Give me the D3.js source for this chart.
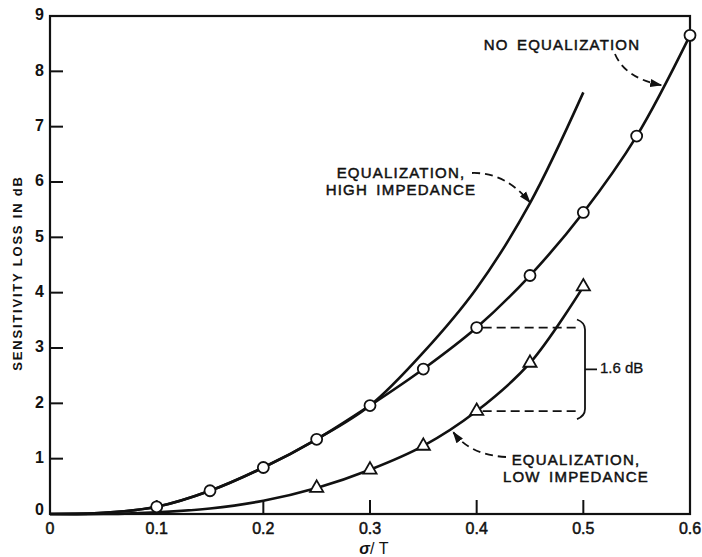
<!DOCTYPE html>
<html>
<head>
<meta charset="utf-8">
<script src="https://cdn.jsdelivr.net/npm/d3@7"></script>
<style>
  body { margin: 0; background: #fff; }
  svg { display: block; }
  text { font-family: "Liberation Sans", Arial, sans-serif; fill: #111; }
</style>
</head>
<body>
<div id="chart"></div>
<script>
// sigma/T values (x) and the three curves
var sigma     = [0, 0.05, 0.1, 0.15, 0.2, 0.25, 0.3, 0.35, 0.4, 0.45, 0.5, 0.55, 0.6];
var noEq      = [0, 0.02, 0.13, 0.42, 0.84, 1.35, 1.96, 2.62, 3.37, 4.31, 5.45, 6.83, 8.65];
var highImp   = [0, 0.02, 0.13, 0.42, 0.84, 1.35, 1.96, 2.92, 4.08, 5.62, 7.62];
var lowImp    = [0, 0.0, 0.03, 0.1, 0.24, 0.47, 0.80, 1.23, 1.86, 2.73, 4.11];
var noEqMarkFrom  = 0.1;   // circles from here on
var lowImpMarkFrom = 0.25; // triangles from here on
var xTicks = [0, 0.1, 0.2, 0.3, 0.4, 0.5, 0.6];
var xTickLabels = ["0", "0.1", "0.2", "0.3", "0.4", "0.5", "0.6"];
var yTicks = [0, 1, 2, 3, 4, 5, 6, 7, 8, 9];

var width = 702, height = 557;
var plotL = 50, plotR = 690, plotT = 16, plotB = 514;

var x = d3.scaleLinear().domain([0, 0.6]).range([plotL, plotR]);
var y = d3.scaleLinear().domain([0, 9]).range([plotB, plotT]);

var svg = d3.select("#chart").append("svg")
    .attr("width", width)
    .attr("height", height);

// arrow head
svg.append("defs").append("marker")
    .attr("id", "head")
    .attr("viewBox", "0 0 12 10")
    .attr("refX", 11).attr("refY", 5)
    .attr("markerWidth", 12).attr("markerHeight", 10)
    .attr("markerUnits", "userSpaceOnUse")
    .attr("orient", "auto")
  .append("path")
    .attr("d", "M0,1 L12,5 L0,9 Z")
    .attr("fill", "#111");

// frame
svg.append("rect")
    .attr("x", plotL).attr("y", plotT)
    .attr("width", plotR - plotL).attr("height", plotB - plotT)
    .attr("fill", "none")
    .attr("stroke", "#111")
    .attr("stroke-width", 2.2);

// inward ticks
svg.append("g").selectAll("line")
    .data(yTicks.slice(1, -1))
    .enter().append("line")
    .attr("x1", plotL).attr("x2", plotL + 13)
    .attr("y1", function(d) { return y(d); })
    .attr("y2", function(d) { return y(d); })
    .attr("stroke", "#111").attr("stroke-width", 2);

svg.append("g").selectAll("line")
    .data(xTicks.slice(1, -1))
    .enter().append("line")
    .attr("x1", function(d) { return x(d); })
    .attr("x2", function(d) { return x(d); })
    .attr("y1", plotB).attr("y2", plotB - 14)
    .attr("stroke", "#111").attr("stroke-width", 2);

// tick labels
svg.append("g").selectAll("text")
    .data(yTicks)
    .enter().append("text")
    .attr("x", plotL - 6)
    .attr("y", function(d) { return y(d) - (d == 0 ? 3 : 0); })
    .attr("text-anchor", "end")
    .attr("dominant-baseline", "middle")
    .style("font-size", "16px")
    .style("font-weight", "bold")
    .text(function(d) { return d; });

svg.append("g").selectAll("text")
    .data(xTicks)
    .enter().append("text")
    .attr("x", function(d) { return x(d); })
    .attr("y", plotB + 20)
    .attr("text-anchor", "middle")
    .style("font-size", "16px")
    .style("stroke", "#111")
    .style("stroke-width", "0.5px")
    .text(function(d, i) { return xTickLabels[i]; });

// axis titles
svg.append("text")
    .attr("transform", "translate(22," + ((plotT + plotB) / 2 + 8) + ") rotate(-90)")
    .attr("text-anchor", "middle")
    .style("font-size", "13px")
    .style("font-weight", "bold")
    .style("letter-spacing", "1.8px")
    .text("SENSITIVITY LOSS IN dB");

var xt = svg.append("text")
    .attr("x", (plotL + plotR) / 2 + 4)
    .attr("y", plotB + 40)
    .attr("text-anchor", "middle")
    .style("font-size", "16px");
xt.append("tspan").style("font-style", "italic").style("font-weight", "bold").text("σ");
xt.append("tspan").text("/ T");

// curves
var line = d3.line()
    .x(function(d) { return x(d[0]); })
    .y(function(d) { return y(d[1]); })
    .curve(d3.curveCatmullRom.alpha(0.5));

function pairs(vals) {
  return vals.map(function(v, i) { return [sigma[i], v]; });
}

[noEq, highImp, lowImp].forEach(function(vals) {
  svg.append("path")
      .datum(pairs(vals))
      .attr("d", line)
      .attr("fill", "none")
      .attr("stroke", "#111")
      .attr("stroke-width", 2.6);
});

// dashed guides for the 1.6 dB gap
var iGap = sigma.indexOf(0.4);
var gapTop = y(noEq[iGap]), gapBot = y(lowImp[iGap]);
svg.append("g").selectAll("line")
    .data([noEq[iGap], lowImp[iGap]])
    .enter().append("line")
    .attr("x1", x(0.4) + 6).attr("x2", 577)
    .attr("y1", function(d) { return y(d); })
    .attr("y2", function(d) { return y(d); })
    .attr("stroke", "#111")
    .attr("stroke-width", 1.8)
    .attr("stroke-dasharray", "9,5");

// brace
var mid = (gapTop + gapBot) / 2;
svg.append("path")
    .attr("d", "M577," + (gapTop - 8) + " Q585," + (gapTop - 5) + " 585," + (gapTop + 2) +
               " L585," + (gapBot - 2) +
               " Q585," + (gapBot + 5) + " 577," + (gapBot + 8) +
               " M585," + mid + " L597," + mid)
    .attr("fill", "none")
    .attr("stroke", "#111")
    .attr("stroke-width", 1.8);

svg.append("text")
    .attr("x", 600).attr("y", mid)
    .attr("dominant-baseline", "middle")
    .style("font-size", "15px")
    .style("stroke", "#111")
    .style("stroke-width", "0.3px")
    .text("1.6 dB");

// markers
svg.append("g").selectAll("circle")
    .data(pairs(noEq).filter(function(d) { return d[0] >= noEqMarkFrom - 1e-9; }))
    .enter().append("circle")
    .attr("cx", function(d) { return x(d[0]); })
    .attr("cy", function(d) { return y(d[1]); })
    .attr("r", 5.5)
    .attr("fill", "#fff")
    .attr("stroke", "#111")
    .attr("stroke-width", 1.8);

svg.append("g").selectAll("path")
    .data(pairs(lowImp).filter(function(d) { return d[0] >= lowImpMarkFrom - 1e-9; }))
    .enter().append("path")
    .attr("transform", function(d) { return "translate(" + x(d[0]) + "," + y(d[1]) + ")"; })
    .attr("d", d3.symbol().type(d3.symbolTriangle).size(75))
    .attr("fill", "#fff")
    .attr("stroke", "#111")
    .attr("stroke-width", 1.8);

// labels with dashed arrows
function label(lines, cx, cy) {
  var t = svg.append("text")
      .attr("text-anchor", "middle")
      .style("font-size", "15px")
      .style("letter-spacing", "1.2px")
      .style("word-spacing", "3px")
      .style("stroke", "#111")
      .style("stroke-width", "0.5px");
  lines.forEach(function(s, i) {
    t.append("tspan").attr("x", cx).attr("y", cy + i * 17).text(s);
  });
}

function arrow(x0, y0, cx, cy, tip) {
  svg.append("path")
      .attr("d", "M" + x0 + "," + y0 + " Q" + cx + "," + cy + " " + x(tip[0]) + "," + y(tip[1]))
      .attr("fill", "none")
      .attr("stroke", "#111")
      .attr("stroke-width", 1.8)
      .attr("stroke-dasharray", "8,5")
      .attr("marker-end", "url(#head)");
}

label(["NO EQUALIZATION"], 562, 50);
arrow(615, 54, 625, 78, [0.573, 7.75]);

label(["EQUALIZATION,", "HIGH IMPEDANCE"], 401, 178);
arrow(472, 173, 505, 172, [0.45, 5.63]);

label(["EQUALIZATION,", "LOW IMPEDANCE"], 576, 465);
arrow(506, 457, 470, 455, [0.378, 1.48]);
</script>
</body>
</html>
